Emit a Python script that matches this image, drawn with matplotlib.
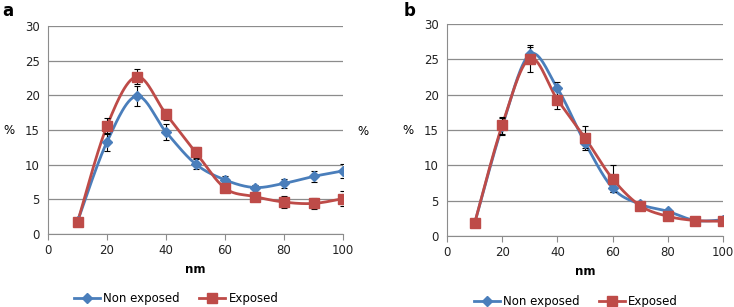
import numpy as np
import matplotlib.pyplot as plt

nm = [10, 20, 30, 40, 50, 60, 70, 80, 90, 100]

# panel a
a_non = [1.8, 13.3, 19.9, 14.7, 10.1, 7.8, 6.7, 7.3, 8.3, 9.1]
a_non_err = [0.0, 1.3, 1.4, 1.2, 0.7, 0.5, 0.4, 0.6, 0.8, 1.0]
a_exp = [1.7, 15.6, 22.7, 17.3, 11.8, 6.6, 5.4, 4.6, 4.4, 5.1]
a_exp_err = [0.0, 1.2, 1.1, 0.8, 0.8, 0.4, 0.5, 0.9, 0.8, 1.1]

# panel b
b_non = [1.8, 15.5, 25.7, 20.9, 13.2, 6.8, 4.5, 3.5, 2.2, 2.3]
b_non_err = [0.0, 1.2, 1.0, 0.9, 0.7, 0.5, 0.3, 0.3, 0.2, 0.2]
b_exp = [1.8, 15.7, 25.1, 19.3, 13.9, 8.1, 4.3, 2.8, 2.2, 2.1]
b_exp_err = [0.0, 1.2, 1.9, 1.3, 1.7, 1.9, 0.4, 0.3, 0.2, 0.2]

BLUE = "#4a7ebb"
RED = "#be4b48"
GRID = "#8c8c8c"


def smooth(x, y, n=30):
    # excel-like smoothed line (bezier through the points)
    x = np.asarray(x, float)
    y = np.asarray(y, float)
    px = np.concatenate([[x[0]], x, [x[-1]]])
    py = np.concatenate([[y[0]], y, [y[-1]]])
    xs, ys = [], []
    t = np.linspace(0, 1, n)
    for i in range(1, len(px) - 2):
        p0 = np.array([px[i], py[i]])
        p3 = np.array([px[i + 1], py[i + 1]])
        p1 = p0 + (np.array([px[i + 1], py[i + 1]]) - np.array([px[i - 1], py[i - 1]])) / 6
        p2 = p3 - (np.array([px[i + 2], py[i + 2]]) - np.array([px[i], py[i]])) / 6
        pts = ((1 - t) ** 3)[:, None] * p0 + (3 * (1 - t) ** 2 * t)[:, None] * p1 \
            + (3 * (1 - t) * t ** 2)[:, None] * p2 + (t ** 3)[:, None] * p3
        xs.extend(pts[:, 0])
        ys.extend(pts[:, 1])
    return xs, ys


def panel(ax, non, non_err, exp, exp_err, leg_x):
    ax.set_axisbelow(True)
    ax.yaxis.grid(True, color=GRID, lw=0.9)
    for s in ["top", "right"]:
        ax.spines[s].set_visible(False)
    for s in ["left", "bottom"]:
        ax.spines[s].set_color(GRID)
    ax.tick_params(axis="x", colors=GRID, length=4, labelcolor="#222222", labelsize=8.5)
    ax.tick_params(axis="y", colors=GRID, length=0, labelcolor="#222222", labelsize=8.5, pad=6)

    sx, sy = smooth(nm, non)
    ax.plot(sx, sy, color=BLUE, lw=2, zorder=3)
    ax.errorbar(nm, non, yerr=non_err, fmt="none", ecolor="black", elinewidth=0.8,
                capsize=2.5, capthick=0.8, zorder=4)
    ax.plot(nm, non, ls="none", marker="D", ms=5, color=BLUE, zorder=5)

    sx, sy = smooth(nm, exp)
    ax.plot(sx, sy, color=RED, lw=2, zorder=3)
    ax.errorbar(nm, exp, yerr=exp_err, fmt="none", ecolor="black", elinewidth=0.8,
                capsize=2.5, capthick=0.8, zorder=4)
    ax.plot(nm, exp, ls="none", marker="s", ms=6.5, color=RED, zorder=5)

    ax.set_xlim(0, 100)
    ax.set_ylim(0, 30)
    ax.set_xticks(range(0, 101, 20))
    ax.set_yticks(range(0, 31, 5))
    ax.set_xlabel("nm", fontsize=8.5, fontweight="bold", labelpad=4)

    h1, = ax.plot([], [], color=BLUE, lw=2, marker="D", ms=5)
    h2, = ax.plot([], [], color=RED, lw=2, marker="s", ms=6.5)
    ax.legend([h1, h2], ["Non exposed", "Exposed"], loc="center",
              bbox_to_anchor=(leg_x, -0.31), ncol=2, frameon=False, fontsize=8.5,
              handlelength=2.2, columnspacing=1.6, handletextpad=0.3, borderpad=0)


fig = plt.figure(figsize=(7.34, 3.07), dpi=100)
ax1 = fig.add_axes([0.0654, 0.238, 0.402, 0.677])
ax2 = fig.add_axes([0.609, 0.231, 0.376, 0.691])

panel(ax1, a_non, a_non_err, a_exp, a_exp_err, 0.434)
panel(ax2, b_non, b_non_err, b_exp, b_exp_err, 0.467)

fig.text(0.005, 0.575, "%", fontsize=8.5, va="center")
fig.text(0.487, 0.572, "%", fontsize=8.5, va="center")
fig.text(0.548, 0.575, "%", fontsize=8.5, va="center")
fig.text(0.003, 0.965, "a", fontsize=12, fontweight="bold", va="center")
fig.text(0.55, 0.965, "b", fontsize=12, fontweight="bold", va="center")

fig.savefig("out.png", dpi=100)
